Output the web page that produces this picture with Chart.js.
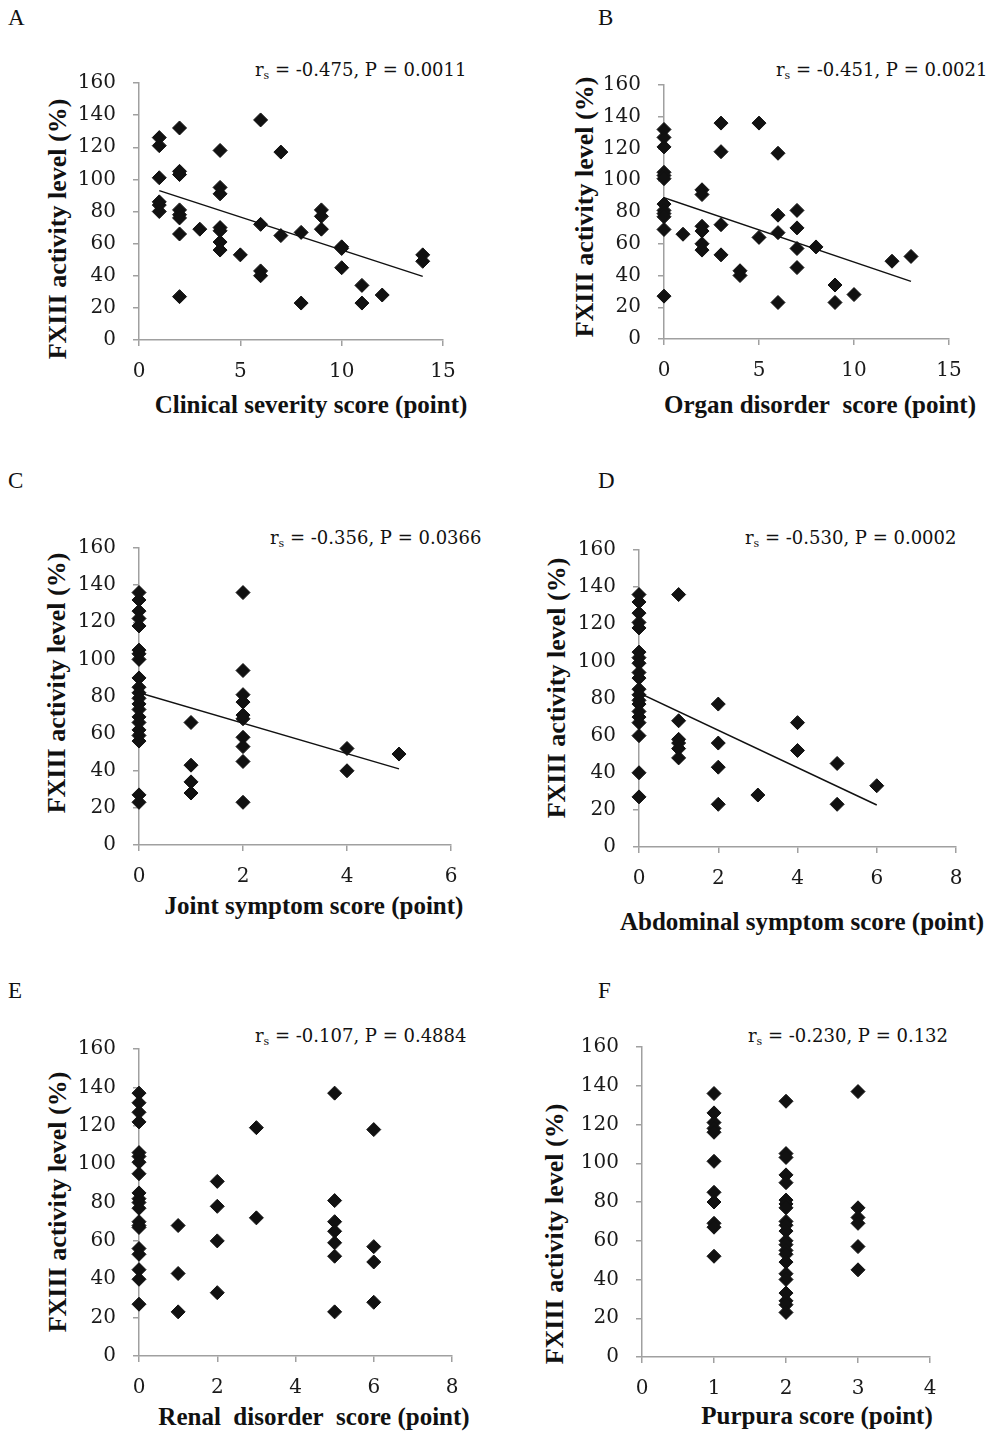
<!DOCTYPE html>
<html>
<head>
<meta charset="utf-8">
<script src="https://cdn.jsdelivr.net/npm/chart.js@4.4.1/dist/chart.umd.min.js"></script>
<style>
  body { margin: 0; background: #fff; }
  #page { position: relative; width: 996px; height: 1436px; overflow: hidden; font-family: "Liberation Serif", serif; color: #111; }
  #page canvas { position: absolute; }
  .lbl { position: absolute; font-size: 23px; line-height: 1; }
  .note { position: absolute; font-family: "DejaVu Serif", serif; font-size: 18px; line-height: 1; white-space: nowrap; transform: translateY(-50%); }
  .note sub { font-size: 11px; vertical-align: -3px; }
  .xt, .yt { position: absolute; font-weight: bold; white-space: nowrap; line-height: 1; }
  .xt { font-size: 25px; transform: translate(-50%, -50%); }
  .yt { font-size: 26px; transform: translate(-50%, -50%) rotate(-90deg); }
</style>
</head>
<body>
<div id="page">
  <div class="lbl" style="left:8px;top:6px">A</div>
  <div class="lbl" style="left:598px;top:6px">B</div>
  <div class="lbl" style="left:8px;top:469px">C</div>
  <div class="lbl" style="left:598px;top:469px">D</div>
  <div class="lbl" style="left:8px;top:979px">E</div>
  <div class="lbl" style="left:598px;top:979px">F</div>

  <div class="note" style="left:255px;top:71px">r<sub>s</sub> = -0.475, P = 0.0011</div>
  <div class="note" style="left:776px;top:71px">r<sub>s</sub> = -0.451, P = 0.0021</div>
  <div class="note" style="left:270px;top:539px">r<sub>s</sub> = -0.356, P = 0.0366</div>
  <div class="note" style="left:745px;top:539px">r<sub>s</sub> = -0.530, P = 0.0002</div>
  <div class="note" style="left:255px;top:1037px">r<sub>s</sub> = -0.107, P = 0.4884</div>
  <div class="note" style="left:748px;top:1037px">r<sub>s</sub> = -0.230, P = 0.132</div>

  <div class="yt" style="left:58px;top:229px">FXIII activity level (%)</div>
  <div class="yt" style="left:585px;top:207px">FXIII activity level (%)</div>
  <div class="yt" style="left:57px;top:683px">FXIII activity level (%)</div>
  <div class="yt" style="left:557px;top:688px">FXIII activity level (%)</div>
  <div class="yt" style="left:58px;top:1202px">FXIII activity level (%)</div>
  <div class="yt" style="left:555px;top:1234px">FXIII activity level (%)</div>

  <div class="xt" style="left:311px;top:404px">Clinical severity score (point)</div>
  <div class="xt" style="left:820px;top:404px">Organ disorder&nbsp; score (point)</div>
  <div class="xt" style="left:314px;top:905px">Joint symptom score (point)</div>
  <div class="xt" style="left:802px;top:921px">Abdominal symptom score (point)</div>
  <div class="xt" style="left:314px;top:1416px">Renal&nbsp; disorder&nbsp; score (point)</div>
  <div class="xt" style="left:817px;top:1415px">Purpura score (point)</div>

  <canvas id="chartA"></canvas>
  <canvas id="chartB"></canvas>
  <canvas id="chartC"></canvas>
  <canvas id="chartD"></canvas>
  <canvas id="chartE"></canvas>
  <canvas id="chartF"></canvas>
</div>
<script>
  // FXIII activity level (%) against each score
  const yTicks = [0, 20, 40, 60, 80, 100, 120, 140, 160];

  // A: clinical severity score
  const sevTicks = [0, 5, 10, 15];
  const sevX = [1, 1, 1, 1, 1, 1, 2, 2, 2, 2, 2, 2, 2, 2, 3, 4, 4, 4, 4, 4, 4, 4, 5, 6, 6, 6, 6, 7, 7, 8, 8, 9, 9, 9, 10, 10, 10, 11, 11, 12, 14, 14];
  const sevY = [126, 121, 101, 86, 84, 80, 132, 105, 103, 81, 78, 76, 66, 27, 69, 118, 95, 91, 70, 68, 61, 56, 53, 137, 72, 43, 40, 117, 65, 67, 23, 81, 77, 69, 58, 57, 45, 34, 23, 28, 53, 49];
  const sevFit = [[1, 93], [14, 39.6]];

  // B: organ disorder score
  const orgTicks = [0, 5, 10, 15];
  const orgX = [0, 0, 0, 0, 0, 0, 0, 0, 0, 0, 0, 0, 1, 2, 2, 2, 2, 2, 2, 3, 3, 3, 3, 4, 4, 5, 5, 6, 6, 6, 6, 7, 7, 7, 7, 8, 9, 9, 10, 12, 13];
  const orgY = [132, 127, 121, 105, 103, 101, 85, 81, 79, 77, 69, 27, 66, 94, 91, 71, 68, 60, 56, 136, 118, 72, 53, 43, 40, 136, 64, 117, 78, 67, 23, 81, 70, 57, 45, 58, 34, 23, 28, 49, 52];
  const orgFit = [[0, 89], [13, 36.3]];

  // C: joint symptom score
  const jntTicks = [0, 2, 4, 6];
  const jntX = [0, 0, 0, 0, 0, 0, 0, 0, 0, 0, 0, 0, 0, 0, 0, 0, 0, 0, 0, 0, 0, 1, 1, 1, 1, 2, 2, 2, 2, 2, 2, 2, 2, 2, 2, 4, 4, 5];
  const jntY = [136, 132, 126, 122, 118, 105, 103, 100, 90, 85, 82, 79, 76, 73, 69, 66, 62, 59, 56, 27, 23, 66, 43, 34, 28, 136, 94, 81, 77, 70, 68, 58, 53, 45, 23, 52, 40, 49];
  const jntFit = [[0, 82], [5, 41]];

  // D: abdominal symptom score
  const abdTicks = [0, 2, 4, 6, 8];
  const abdX = [0, 0, 0, 0, 0, 0, 0, 0, 0, 0, 0, 0, 0, 0, 0, 0, 0, 0, 0, 0, 1, 1, 1, 1, 1, 1, 2, 2, 2, 2, 3, 4, 4, 5, 5, 6];
  const abdY = [136, 132, 126, 121, 118, 105, 102, 99, 94, 91, 85, 82, 79, 77, 73, 70, 67, 60, 40, 27, 136, 68, 58, 56, 53, 48, 77, 56, 43, 23, 28, 67, 52, 45, 23, 33];
  const abdFit = [[0, 83], [6, 22.6]];

  // E: renal disorder score
  const renTicks = [0, 2, 4, 6, 8];
  const renX = [0, 0, 0, 0, 0, 0, 0, 0, 0, 0, 0, 0, 0, 0, 0, 0, 0, 0, 0, 0, 1, 1, 1, 2, 2, 2, 2, 3, 3, 5, 5, 5, 5, 5, 5, 5, 6, 6, 6, 6];
  const renY = [137, 132, 127, 122, 106, 104, 101, 95, 85, 82, 80, 77, 70, 68, 67, 56, 53, 45, 40, 27, 68, 43, 23, 91, 78, 60, 33, 119, 72, 137, 81, 70, 65, 59, 52, 23, 118, 57, 49, 28];

  // F: purpura score
  const purTicks = [0, 1, 2, 3, 4];
  const purX = [1, 1, 1, 1, 1, 1, 1, 1, 1, 1, 1, 2, 2, 2, 2, 2, 2, 2, 2, 2, 2, 2, 2, 2, 2, 2, 2, 2, 2, 2, 2, 2, 2, 3, 3, 3, 3, 3, 3];
  const purY = [136, 126, 121, 118, 116, 101, 85, 80, 69, 67, 52, 132, 105, 103, 94, 90, 81, 79, 77, 70, 68, 65, 60, 58, 55, 53, 49, 43, 40, 33, 29, 27, 23, 137, 77, 72, 69, 57, 45];

  Chart.defaults.font.family = '"DejaVu Serif", serif';
  const axisGray = '#a0a0a0';
  const tickFont = { size: 20 };

  function panel(id, box, xs, ys, xTicks, fit) {
    const cv = document.getElementById(id);
    const L = 80, T = 20, R = 30, B = 50;
    const w = box.right - box.left + L + R;
    const h = box.bottom - box.top + T + B;
    cv.width = w; cv.height = h;
    cv.style.left = (box.left - L) + 'px';
    cv.style.top = (box.top - T) + 'px';
    cv.style.width = w + 'px';
    cv.style.height = h + 'px';

    const datasets = [{
      data: xs.map((x, i) => ({ x: x, y: ys[i] })),
      pointStyle: 'rectRot',
      pointRadius: 7,
      pointHoverRadius: 7,
      backgroundColor: '#111',
      borderColor: '#111',
      borderWidth: 1,
      clip: false,
      order: 0,
    }];
    if (fit) {
      datasets.push({
        data: fit.map(p => ({ x: p[0], y: p[1] })),
        showLine: true,
        pointRadius: 0,
        borderColor: '#111',
        borderWidth: 1.5,
        order: 1,
      });
    }

    new Chart(cv, {
      type: 'scatter',
      data: { datasets },
      options: {
        responsive: false,
        animation: false,
        events: [],
        layout: { padding: { left: 0, top: T, right: R, bottom: 0 } },
        plugins: { legend: { display: false }, tooltip: { enabled: false } },
        scales: {
          x: {
            type: 'linear',
            min: xTicks[0],
            max: xTicks[xTicks.length - 1],
            afterBuildTicks: s => { s.ticks = xTicks.map(v => ({ value: v })); },
            afterFit: s => { s.height = B; },
            grid: { drawOnChartArea: false, color: axisGray, tickLength: 6, lineWidth: 1.5 },
            border: { color: axisGray, width: 1.5 },
            ticks: { font: tickFont, color: '#1a1a1a', padding: 14, maxRotation: 0 },
          },
          y: {
            min: 0,
            max: 160,
            afterBuildTicks: s => { s.ticks = yTicks.map(v => ({ value: v })); },
            afterFit: s => { s.width = L; },
            grid: { drawOnChartArea: false, color: axisGray, tickLength: 6, lineWidth: 1.5 },
            border: { color: axisGray, width: 1.5 },
            ticks: { font: tickFont, color: '#1a1a1a', padding: 17 },
          },
        },
      },
    });
  }

  panel('chartA', { left: 139, right: 443, top: 74, bottom: 340 }, sevX, sevY, sevTicks, sevFit);
  panel('chartB', { left: 664, right: 949, top: 76, bottom: 339 }, orgX, orgY, orgTicks, orgFit);
  panel('chartC', { left: 139, right: 451, top: 539, bottom: 845 }, jntX, jntY, jntTicks, jntFit);
  panel('chartD', { left: 639, right: 956, top: 541, bottom: 847 }, abdX, abdY, abdTicks, abdFit);
  panel('chartE', { left: 139, right: 452, top: 1040, bottom: 1356 }, renX, renY, renTicks, null);
  panel('chartF', { left: 642, right: 930, top: 1038, bottom: 1357 }, purX, purY, purTicks, null);
</script>
</body>
</html>
